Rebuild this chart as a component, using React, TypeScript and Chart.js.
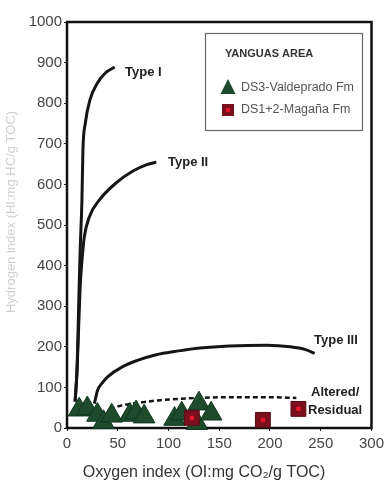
import React, { useEffect, useRef } from "react";
import { Chart, registerables } from "chart.js";

Chart.register(...registerables);

// Oxygen index (OI) / Hydrogen index (HI) pairs
const typeICurve: [number, number][] = [
  [8, 65], [10, 150], [11, 250], [12, 350], [13, 440], [14.7, 560], [15.7, 685],
  [18, 750], [22.6, 808], [30, 850], [38, 875], [47, 889],
];
const typeIICurve: [number, number][] = [
  [8, 65], [10, 150], [11.5, 250], [13, 350], [15, 420], [17, 470], [22, 520],
  [32, 562], [49, 605], [65, 633], [78, 648], [88, 655],
];
const typeIIICurve: [number, number][] = [
  [27, 60], [30, 92], [35, 112], [40, 126], [54, 150], [70, 167], [87, 180],
  [110, 190], [131, 197], [160, 202], [197, 204], [220, 200], [235, 193], [244, 184],
];
const alteredCurve: [number, number][] = [
  [42, 48], [55, 56], [70, 62], [90, 68], [120, 73], [160, 76], [200, 76], [226, 74],
];
const ds3Valdeprado: [number, number][] = [
  [12, 45], [20, 48], [30, 32], [36, 14], [44, 30], [62, 32], [68, 38], [76, 28],
  [106, 22], [113, 35], [130, 60], [128, 12], [142, 35],
];
const ds12Magana: [number, number][] = [
  [123, 25], [193, 20], [228, 47],
];
const xTicks = [0, 50, 100, 150, 200, 250, 300];
const yTicks = [0, 100, 200, 300, 400, 500, 600, 700, 800, 900, 1000];

const FONT = '"Liberation Sans", Arial, sans-serif';
const toXY = (a: [number, number][]) => a.map(([x, y]) => ({ x, y }));

const decorPlugin = {
  id: "decor",
  beforeDatasetsDraw(chart: any) {
    const { ctx, chartArea: a } = chart;
    ctx.save();
    ctx.strokeStyle = "#111";
    ctx.lineWidth = 2.5;
    ctx.strokeRect(a.left, a.top, a.right - a.left, a.bottom - a.top);
    ctx.restore();
  },
  afterDraw(chart: any) {
    const { ctx } = chart;
    ctx.save();
    // curve labels
    ctx.fillStyle = "#222";
    ctx.font = `bold 13px ${FONT}`;
    ctx.textBaseline = "middle";
    ctx.textAlign = "left";
    ctx.fillText("Type I", 125, 72);
    ctx.fillText("Type II", 168, 162);
    ctx.fillText("Type III", 314, 340);
    ctx.fillText("Altered/", 311, 392);
    ctx.fillText("Residual", 308, 410);

    // legend box
    ctx.strokeStyle = "#666";
    ctx.lineWidth = 1.2;
    ctx.strokeRect(205.5, 33.5, 157, 97);
    ctx.fillStyle = "#333";
    ctx.font = `bold 11px ${FONT}`;
    ctx.fillText("YANGUAS AREA", 225, 54);
    // triangle marker
    ctx.fillStyle = "#1d4b2b";
    ctx.beginPath();
    ctx.moveTo(228, 79);
    ctx.lineTo(235.5, 94);
    ctx.lineTo(220.5, 94);
    ctx.closePath();
    ctx.fill();
    // square marker
    ctx.fillStyle = "#7a0f1e";
    ctx.fillRect(222, 104, 12, 12);
    ctx.fillStyle = "#e0142e";
    ctx.fillRect(226, 108, 4, 4);
    ctx.fillStyle = "#555";
    ctx.font = `12.5px ${FONT}`;
    ctx.fillText("DS3-Valdeprado Fm", 241, 88);
    ctx.fillText("DS1+2-Magaña Fm", 241, 110);

    // axis titles
    ctx.fillStyle = "#333";
    ctx.font = `16px ${FONT}`;
    ctx.textAlign = "center";
    ctx.fillText("Oxygen index (OI:mg CO\u2082/g TOC)", 204, 473);

    ctx.save();
    ctx.translate(11, 212);
    ctx.rotate(-Math.PI / 2);
    ctx.fillStyle = "#cfcfcf";
    ctx.font = `13px ${FONT}`;
    ctx.fillText("Hydrogen index (HI:mg HC/g TOC)", 0, 0);
    ctx.restore();

    ctx.restore();
  },
};

export default function App() {
  const ref = useRef<HTMLCanvasElement | null>(null);
  useEffect(() => {
    document.body.style.margin = "0";
    const lineDs = (data: [number, number][], dashed = false) => ({
      type: "scatter" as const,
      data: toXY(data),
      showLine: true,
      borderColor: "#151515",
      borderWidth: dashed ? 2.5 : 3,
      borderDash: dashed ? [5, 3] : [],
      pointRadius: 0,
      cubicInterpolationMode: "monotone" as const,
      fill: false,
      clip: false as any,
    });
    const chart = new Chart(ref.current!, {
      type: "scatter",
      data: {
        datasets: [
          {
            label: "DS1+2-Magaña Fm (center)",
            data: toXY(ds12Magana),
            pointStyle: "rect",
            pointRadius: 3,
            backgroundColor: "#e8142e",
            borderWidth: 0,
            clip: false as any,
          },
          {
            label: "DS1+2-Magaña Fm",
            data: toXY(ds12Magana),
            pointStyle: "rect",
            pointRadius: 10.5,
            backgroundColor: "#7a0f1e",
            borderColor: "#5a0a14",
            borderWidth: 1,
            clip: false as any,
          },
          {
            label: "DS3-Valdeprado Fm",
            data: toXY(ds3Valdeprado),
            pointStyle: "triangle",
            pointRadius: 12.5,
            backgroundColor: "#1d4b2b",
            borderColor: "#123520",
            borderWidth: 1,
            clip: false as any,
          },
          { label: "Type I", ...lineDs(typeICurve) },
          { label: "Type II", ...lineDs(typeIICurve) },
          { label: "Type III", ...lineDs(typeIIICurve) },
          { label: "Altered/Residual", ...lineDs(alteredCurve, true) },
        ],
      },
      options: {
        animation: false,
        responsive: false,
        devicePixelRatio: 1,
        layout: { padding: { top: 22, right: 15, left: 0, bottom: 0 } },
        plugins: { legend: { display: false }, tooltip: { enabled: false } },
        scales: {
          x: {
            type: "linear",
            min: 0,
            max: 300,
            afterFit: (s: any) => { s.height = 60; },
            afterBuildTicks: (s: any) => { s.ticks = xTicks.map((v) => ({ value: v })); },
            ticks: { color: "#444", font: { size: 15, family: FONT }, padding: 4, callback: (v: any) => String(v) },
            grid: { drawOnChartArea: false, drawTicks: true, tickLength: 3, color: "#222" },
            border: { display: false },
          },
          y: {
            type: "linear",
            min: 0,
            max: 1000,
            afterFit: (s: any) => { s.width = 67; },
            afterBuildTicks: (s: any) => { s.ticks = yTicks.map((v) => ({ value: v })); },
            ticks: { color: "#444", font: { size: 15, family: FONT }, padding: 2, callback: (v: any) => String(v) },
            grid: { drawOnChartArea: false, drawTicks: true, tickLength: 3, color: "#222" },
            border: { display: false },
          },
        },
      },
      plugins: [decorPlugin],
    } as any);
    return () => chart.destroy();
  }, []);
  return (
    <div style={{ position: "absolute", left: 0, top: 0, width: 388, height: 488, background: "#fff" }}>
      <canvas ref={ref} width={388} height={488} />
    </div>
  );
}
